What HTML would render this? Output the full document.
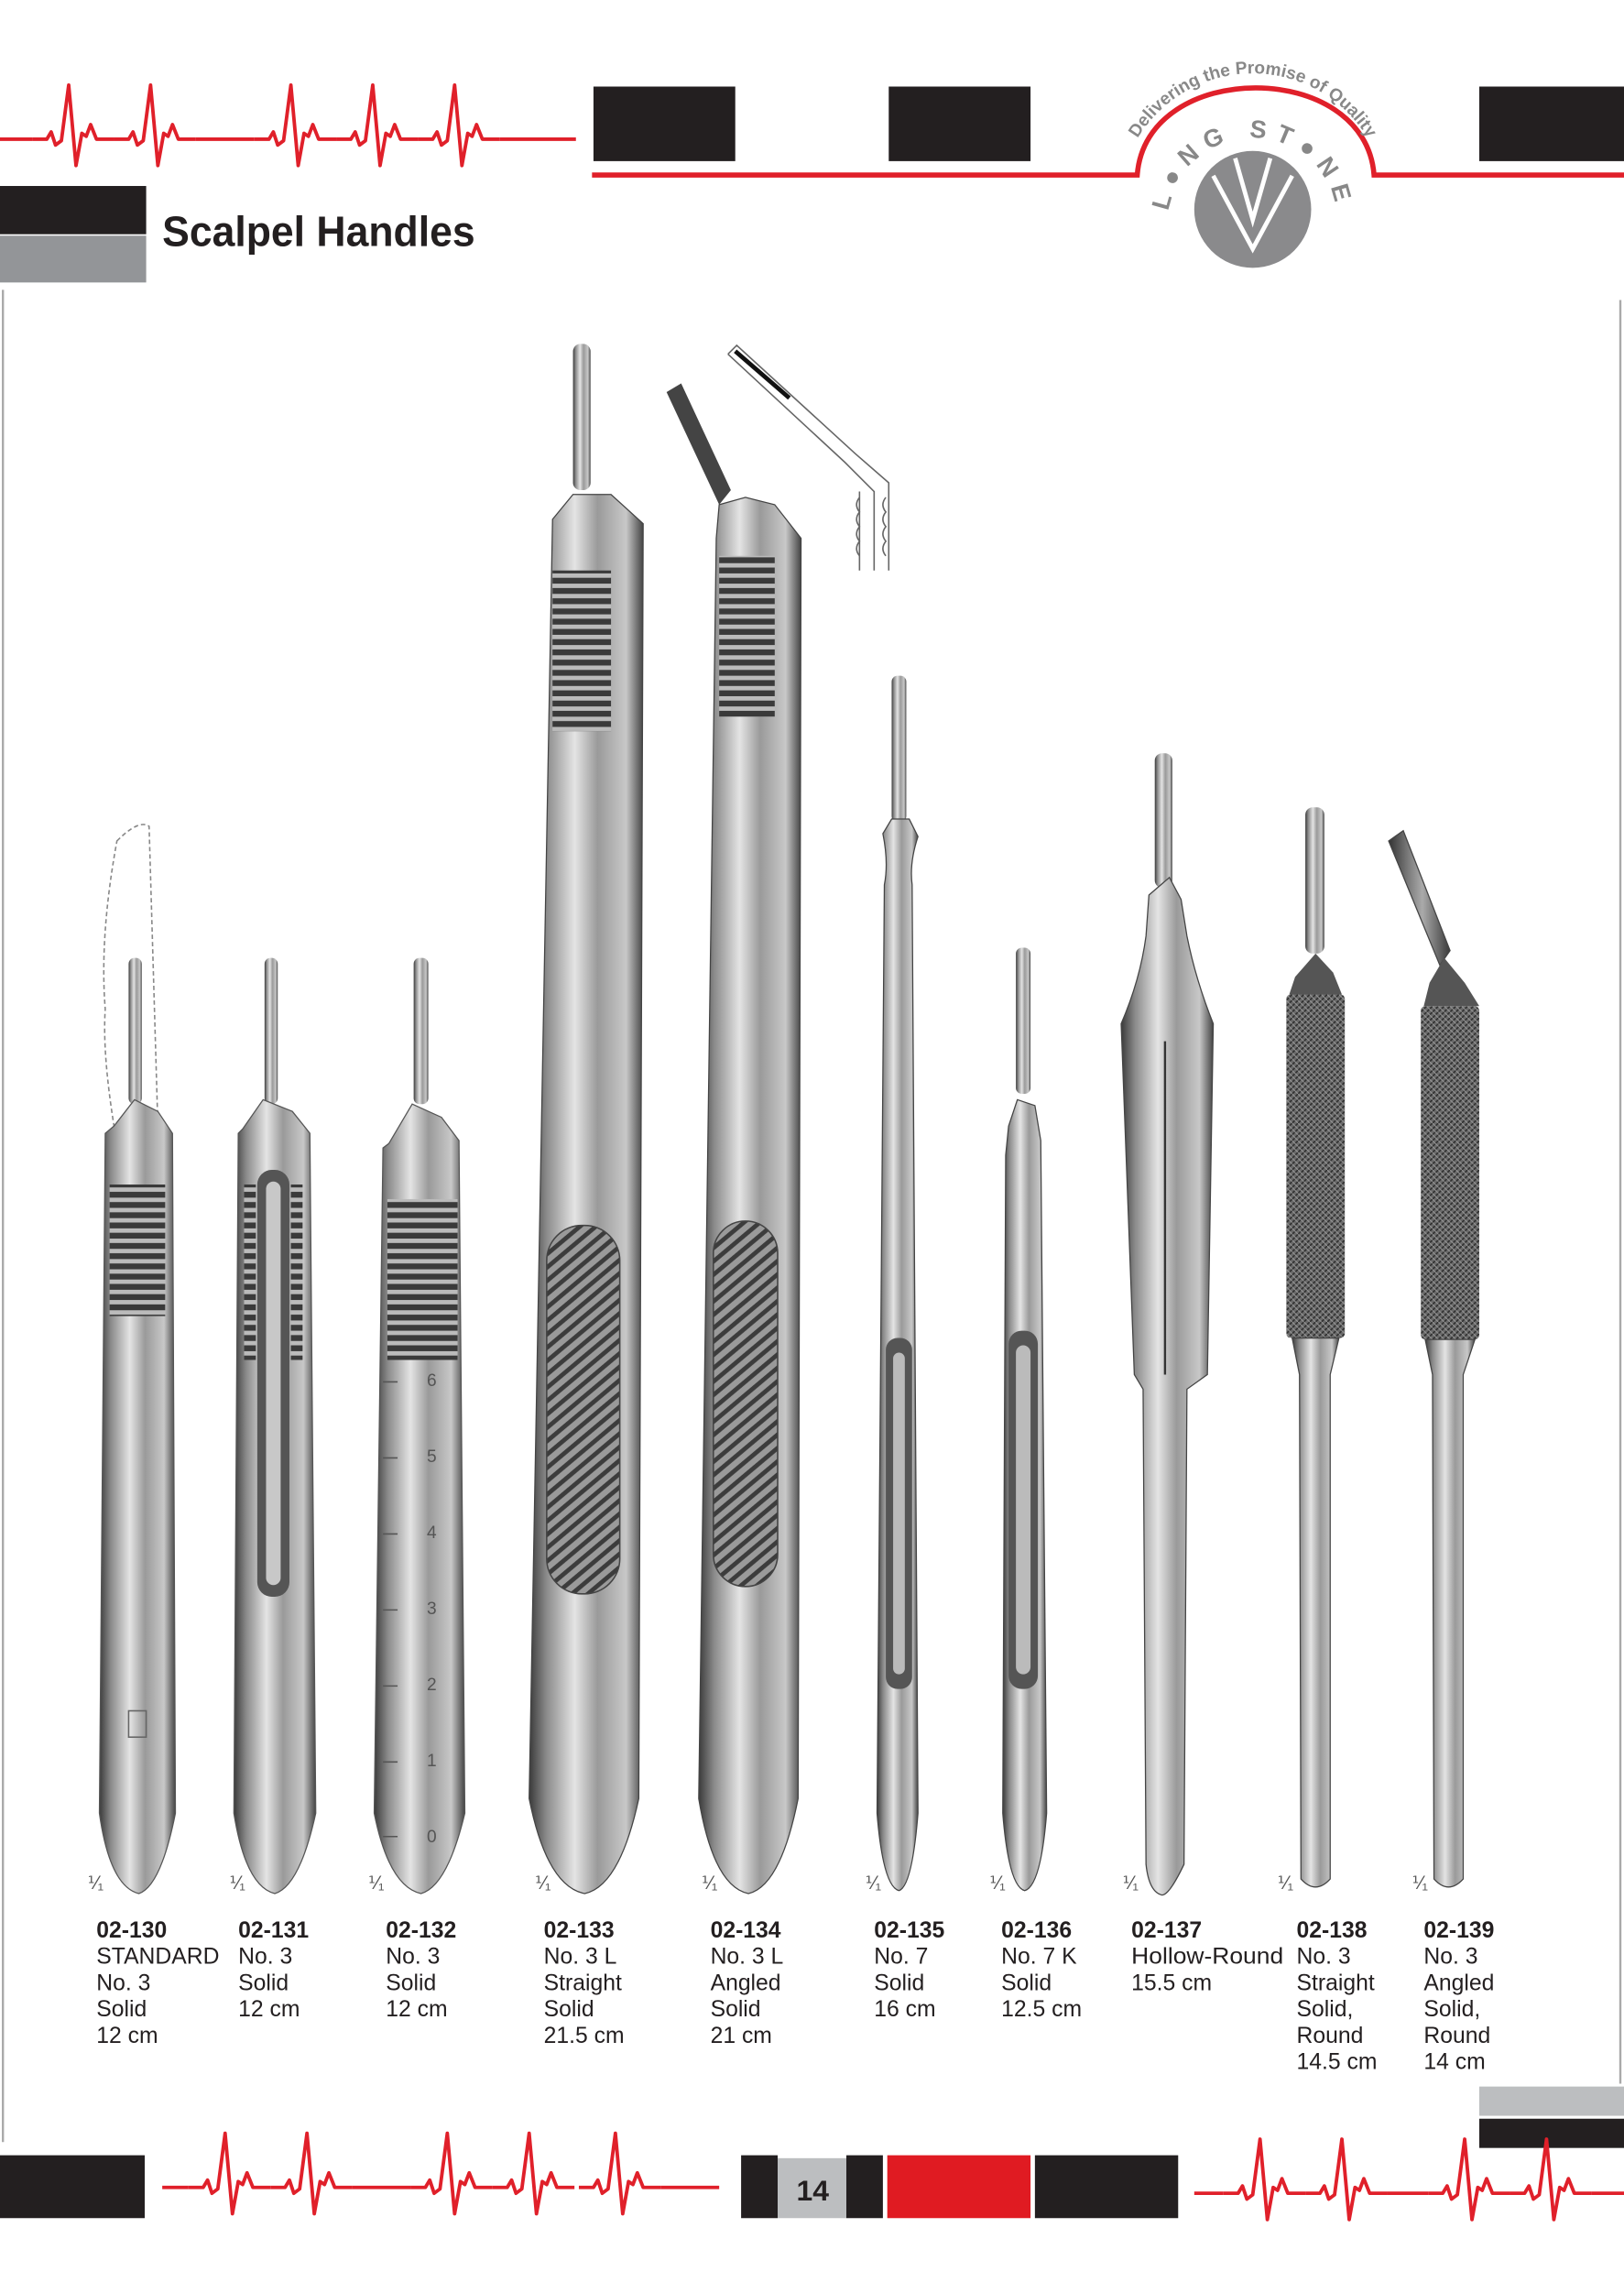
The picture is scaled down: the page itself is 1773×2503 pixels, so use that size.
<!DOCTYPE html>
<html><head><meta charset="utf-8"><style>
html,body{margin:0;padding:0;background:#fff;}
svg{display:block;}
text{font-family:"Liberation Sans",Arial,sans-serif;}
</style></head><body>
<svg width="1773" height="2503" viewBox="0 0 1111 1568" xmlns="http://www.w3.org/2000/svg">
<defs>
<linearGradient id="m" x1="0" x2="1" y1="0" y2="0">
<stop offset="0" stop-color="#3a3a3a"/><stop offset="0.15" stop-color="#8a8a8a"/><stop offset="0.4" stop-color="#e4e4e4"/><stop offset="0.6" stop-color="#9a9a9a"/><stop offset="0.85" stop-color="#c8c8c8"/><stop offset="1" stop-color="#444"/>
</linearGradient>
<linearGradient id="d" x1="0" x2="1" y1="0" y2="0">
<stop offset="0" stop-color="#333"/><stop offset="0.3" stop-color="#777"/><stop offset="0.55" stop-color="#aaa"/><stop offset="1" stop-color="#3a3a3a"/>
</linearGradient>
<pattern id="rib" width="10" height="7" patternUnits="userSpaceOnUse"><rect width="10" height="7" fill="#bbb"/><rect y="3" width="10" height="4" fill="#3a3a3a"/></pattern>
<pattern id="kn" width="4" height="4" patternUnits="userSpaceOnUse"><rect width="4" height="4" fill="#6a6a6a"/><path d="M0,4 L4,0" stroke="#2e2e2e" stroke-width="1"/><path d="M0,0 L4,4" stroke="#999" stroke-width="0.6"/></pattern>
<pattern id="hat" width="7" height="7" patternUnits="userSpaceOnUse" patternTransform="rotate(-40)"><rect width="7" height="7" fill="#9a9a9a"/><rect width="7" height="3" fill="#3c3c3c"/></pattern>
<g id="beat"><path d="M0,0 h10 l3,-5 l3,9 l4,-3 l5,-38 l5,55 l4,-22 l3,2 l3,-8 l4,10 h12" fill="none" stroke="#e0202a" stroke-width="2.4" stroke-linejoin="round"/></g>
<path id="arcOut" d="M765,142 A92,92 0 0 1 949,142"/>
<path id="arcIn" d="M799,152 A58,58 0 0 1 915,152"/>
</defs>

<!-- header ECG -->
<path d="M0,95 h22" stroke="#e0202a" stroke-width="2.4"/>
<use href="#beat" x="22" y="95"/><use href="#beat" x="78" y="95"/>
<path d="M134,95 h40" stroke="#e0202a" stroke-width="2.4"/>
<use href="#beat" x="174" y="95"/><use href="#beat" x="230" y="95"/><use href="#beat" x="286" y="95"/>
<path d="M342,95 h52" stroke="#e0202a" stroke-width="2.4"/>
<rect x="406" y="59" width="97" height="51" fill="#231f20"/>
<rect x="608" y="59" width="97" height="51" fill="#231f20"/>
<rect x="1012" y="59" width="99" height="51" fill="#231f20"/>
<path d="M405,119.5 H778 C784,40 934,40 940,119.5 H1111" fill="none" stroke="#e0202a" stroke-width="3.5"/>
<circle cx="857" cy="143" r="40" fill="#8a8a8c"/>
<path d="M845,108 L857,150 L869,108 M830,120 L857,170 L884,120" stroke="#fff" stroke-width="3" fill="none"/>
<text font-size="12" font-weight="bold" fill="#888"><textPath href="#arcOut" startOffset="50%" text-anchor="middle">Delivering the Promise of Quality</textPath></text>
<text font-size="17" font-weight="bold" fill="#888" letter-spacing="6"><textPath href="#arcIn" startOffset="50%" text-anchor="middle">L●NG ST●NE</textPath></text>

<!-- title -->
<rect x="0" y="127" width="100" height="33" fill="#231f20"/>
<rect x="0" y="161" width="100" height="32" fill="#939598"/>
<text x="111" y="168" font-size="29" font-weight="bold" fill="#231f20" textLength="214" lengthAdjust="spacingAndGlyphs">Scalpel Handles</text>
<line x1="2" y1="198" x2="2" y2="1465" stroke="#aaa" stroke-width="1.5"/>
<line x1="1108.5" y1="205" x2="1108.5" y2="1425" stroke="#aaa" stroke-width="1.5"/>

<!-- 02-130 -->
<path d="M80,575 Q95,560 102,565 L108,770 L78,770 Q70,720 72,690 Q68,640 80,575 Z" fill="none" stroke="#888" stroke-dasharray="3,2"/>
<rect x="88" y="655" width="9" height="100" rx="4" fill="url(#m)"/>
<path d="M78,770 L92,752 L108,760 L118,775 L120,1240 Q110,1290 95,1295 Q75,1290 68,1240 L72,775 Z" fill="url(#m)" stroke="#555" stroke-width="0.8"/>
<rect x="75" y="810" width="38" height="90" fill="url(#rib)"/>
<rect x="88" y="1170" width="12" height="18" fill="none" stroke="#666"/>
<!-- 02-131 -->
<rect x="181" y="655" width="9" height="100" rx="4" fill="url(#m)"/>
<path d="M166,772 L180,752 L200,760 L212,775 L216,1240 Q205,1290 188,1295 Q168,1290 160,1240 L163,775 Z" fill="url(#m)" stroke="#555" stroke-width="0.8"/>
<rect x="176" y="800" width="22" height="292" rx="10" fill="#555"/>
<rect x="182" y="808" width="10" height="276" rx="5" fill="#c8c8c8"/>
<rect x="167" y="810" width="8" height="120" fill="url(#rib)"/><rect x="199" y="810" width="8" height="120" fill="url(#rib)"/>
<!-- 02-132 -->
<rect x="283" y="655" width="10" height="100" rx="4" fill="url(#m)"/>
<path d="M266,782 L282,755 L302,764 L314,780 L318,1240 Q306,1290 288,1295 Q266,1290 256,1240 L262,785 Z" fill="url(#m)" stroke="#555" stroke-width="0.8"/>
<rect x="265" y="820" width="48" height="110" fill="url(#rib)"/>
<g stroke="#555" stroke-width="1"><path d="M262,945 h10 M262,997 h10 M262,1049 h10 M262,1101 h10 M262,1153 h10 M262,1205 h10 M262,1256 h10"/></g>
<text x="292" y="1260" font-size="12" fill="#555">0</text><text x="292" y="1208" font-size="12" fill="#555">1</text><text x="292" y="1156" font-size="12" fill="#555">2</text><text x="292" y="1104" font-size="12" fill="#555">3</text><text x="292" y="1052" font-size="12" fill="#555">4</text><text x="292" y="1000" font-size="12" fill="#555">5</text><text x="292" y="948" font-size="12" fill="#555">6</text>
<!-- 02-133 -->
<rect x="392" y="235" width="12" height="100" rx="5" fill="url(#m)"/>
<path d="M378,355 L392,338 L418,338 L440,358 L437,1230 Q424,1290 400,1295 Q374,1290 362,1230 Z" fill="url(#m)" stroke="#444" stroke-width="0.8"/>
<rect x="378" y="390" width="40" height="110" fill="url(#rib)"/>
<rect x="374" y="838" width="50" height="252" rx="24" fill="url(#hat)" stroke="#444"/>
<!-- 02-134 -->
<path d="M456,268 L466,262 L500,335 L492,345 Z" fill="#444"/>
<path d="M492,345 L510,340 L530,345 L548,368 L546,1230 Q534,1290 512,1295 Q488,1290 478,1230 L490,368 Z" fill="url(#m)" stroke="#444" stroke-width="0.8"/>
<rect x="492" y="380" width="38" height="110" fill="url(#rib)"/>
<rect x="488" y="835" width="44" height="250" rx="22" fill="url(#hat)" stroke="#444"/>
<!-- inset -->
<g fill="none" stroke="#666" stroke-width="1"><path d="M498,242 L504,236 L585,310 L608,330 L608,390 M498,242 L578,316 L598,336 L598,390 M588,336 L588,390"/><path d="M588,340 q-4,5 0,10 q-4,5 0,10 q-4,5 0,10 q-4,5 0,10 M606,340 q-4,5 0,10 q-4,5 0,10 q-4,5 0,10 q-4,5 0,10"/></g>
<path d="M503,240 L540,272" stroke="#111" stroke-width="3"/>
<!-- 02-135 -->
<rect x="610" y="462" width="10" height="100" rx="4" fill="url(#m)"/>
<path d="M604,570 L610,560 L622,560 L628,572 Q622,590 624,605 L628,1240 Q624,1290 615,1293 Q604,1290 600,1240 L605,605 Q608,590 604,570 Z" fill="url(#m)" stroke="#444" stroke-width="0.8"/>
<rect x="606" y="915" width="18" height="240" rx="8" fill="#555"/><rect x="611" y="925" width="8" height="220" rx="4" fill="#bbb"/>
<!-- 02-136 -->
<rect x="695" y="648" width="10" height="100" rx="4" fill="url(#m)"/>
<path d="M690,770 L696,752 L708,756 L712,780 L716,1240 Q712,1290 701,1293 Q690,1290 686,1240 L688,790 Z" fill="url(#m)" stroke="#444" stroke-width="0.8"/>
<rect x="690" y="910" width="20" height="245" rx="9" fill="#555"/><rect x="695" y="920" width="10" height="225" rx="5" fill="#bbb"/>
<!-- 02-137 -->
<rect x="790" y="515" width="12" height="92" rx="5" fill="url(#m)"/>
<path d="M786,612 L800,600 L808,615 L812,640 Q818,670 830,700 L826,940 L812,950 L810,1275 Q800,1296 795,1296 Q786,1294 784,1275 L782,950 L776,940 L767,700 Q780,670 784,640 Z" fill="url(#m)" stroke="#444" stroke-width="0.8"/>
<path d="M797,712 L797,940" stroke="#333" stroke-width="1.5"/>
<!-- 02-138 -->
<rect x="893" y="552" width="13" height="100" rx="5" fill="url(#m)"/>
<path d="M886,668 L900,652 L912,665 L918,680 L882,680 Z" fill="#555"/>
<rect x="880" y="680" width="40" height="235" rx="3" fill="url(#kn)"/>
<path d="M884,915 L916,915 L910,940 L910,1285 Q900,1296 890,1285 L889,940 Z" fill="url(#m)" stroke="#444" stroke-width="0.8"/>
<!-- 02-139 -->
<path d="M950,575 L960,568 L992,650 L985,660 Z" fill="url(#d)" stroke="#444" stroke-width="0.8"/>
<path d="M978,672 L988,655 L1002,672 L1012,688 L974,688 Z" fill="#555"/>
<rect x="972" y="688" width="40" height="228" rx="3" fill="url(#kn)"/>
<path d="M975,916 L1009,916 L1001,940 L1001,1285 Q991,1296 981,1285 L980,940 Z" fill="url(#m)" stroke="#444" stroke-width="0.8"/>

<!-- scale marks -->
<g font-size="12" fill="#555">
<text x="60" y="1292">⅟₁</text><text x="157" y="1292">⅟₁</text><text x="252" y="1292">⅟₁</text><text x="366" y="1292">⅟₁</text><text x="480" y="1292">⅟₁</text><text x="592" y="1292">⅟₁</text><text x="677" y="1292">⅟₁</text><text x="768" y="1292">⅟₁</text><text x="874" y="1292">⅟₁</text><text x="966" y="1292">⅟₁</text>
</g>

<!-- labels -->
<g font-size="15.5" fill="#231f20">
<text x="66" y="1325" font-weight="bold">02-130</text><text x="66" y="1343">STANDARD</text><text x="66" y="1361">No. 3</text><text x="66" y="1379">Solid</text><text x="66" y="1397">12 cm</text>
<text x="163" y="1325" font-weight="bold">02-131</text><text x="163" y="1343">No. 3</text><text x="163" y="1361">Solid</text><text x="163" y="1379">12 cm</text>
<text x="264" y="1325" font-weight="bold">02-132</text><text x="264" y="1343">No. 3</text><text x="264" y="1361">Solid</text><text x="264" y="1379">12 cm</text>
<text x="372" y="1325" font-weight="bold">02-133</text><text x="372" y="1343">No. 3 L</text><text x="372" y="1361">Straight</text><text x="372" y="1379">Solid</text><text x="372" y="1397">21.5 cm</text>
<text x="486" y="1325" font-weight="bold">02-134</text><text x="486" y="1343">No. 3 L</text><text x="486" y="1361">Angled</text><text x="486" y="1379">Solid</text><text x="486" y="1397">21 cm</text>
<text x="598" y="1325" font-weight="bold">02-135</text><text x="598" y="1343">No. 7</text><text x="598" y="1361">Solid</text><text x="598" y="1379">16 cm</text>
<text x="685" y="1325" font-weight="bold">02-136</text><text x="685" y="1343">No. 7 K</text><text x="685" y="1361">Solid</text><text x="685" y="1379">12.5 cm</text>
<text x="774" y="1325" font-weight="bold">02-137</text><text x="774" y="1343" textLength="104" lengthAdjust="spacingAndGlyphs">Hollow-Round</text><text x="774" y="1361">15.5 cm</text>
<text x="887" y="1325" font-weight="bold">02-138</text><text x="887" y="1343">No. 3</text><text x="887" y="1361">Straight</text><text x="887" y="1379">Solid,</text><text x="887" y="1397">Round</text><text x="887" y="1415">14.5 cm</text>
<text x="974" y="1325" font-weight="bold">02-139</text><text x="974" y="1343">No. 3</text><text x="974" y="1361">Angled</text><text x="974" y="1379">Solid,</text><text x="974" y="1397">Round</text><text x="974" y="1415">14 cm</text>
</g>

<!-- footer -->
<rect x="1012" y="1427" width="99" height="20" fill="#bcbec0"/>
<rect x="1012" y="1449" width="99" height="20" fill="#231f20"/>
<rect x="0" y="1474" width="99" height="43" fill="#231f20"/>
<path d="M111,1496 h18" stroke="#e0202a" stroke-width="2.4"/>
<use href="#beat" x="129" y="1496"/><use href="#beat" x="185" y="1496"/>
<path d="M241,1496 h40" stroke="#e0202a" stroke-width="2.4"/>
<use href="#beat" x="281" y="1496"/><use href="#beat" x="337" y="1496"/><use href="#beat" x="396" y="1496"/>
<path d="M452,1496 h40" stroke="#e0202a" stroke-width="2.4"/>
<rect x="507" y="1474" width="25" height="43" fill="#231f20"/>
<rect x="532" y="1476" width="47" height="41" fill="#bcbec0"/>
<text x="556" y="1505" font-size="20" font-weight="bold" fill="#231f20" text-anchor="middle">14</text>
<rect x="579" y="1474" width="25" height="43" fill="#231f20"/>
<rect x="607" y="1474" width="98" height="43" fill="#e01b22"/>
<rect x="708" y="1474" width="98" height="43" fill="#231f20"/>
<path d="M817,1500 h20" stroke="#e0202a" stroke-width="2.4"/>
<use href="#beat" x="837" y="1500"/><use href="#beat" x="893" y="1500"/>
<path d="M949,1500 h28" stroke="#e0202a" stroke-width="2.4"/>
<use href="#beat" x="977" y="1500"/><use href="#beat" x="1033" y="1500"/>
<path d="M1089,1500 h22" stroke="#e0202a" stroke-width="2.4"/>
</svg>
</body></html>
